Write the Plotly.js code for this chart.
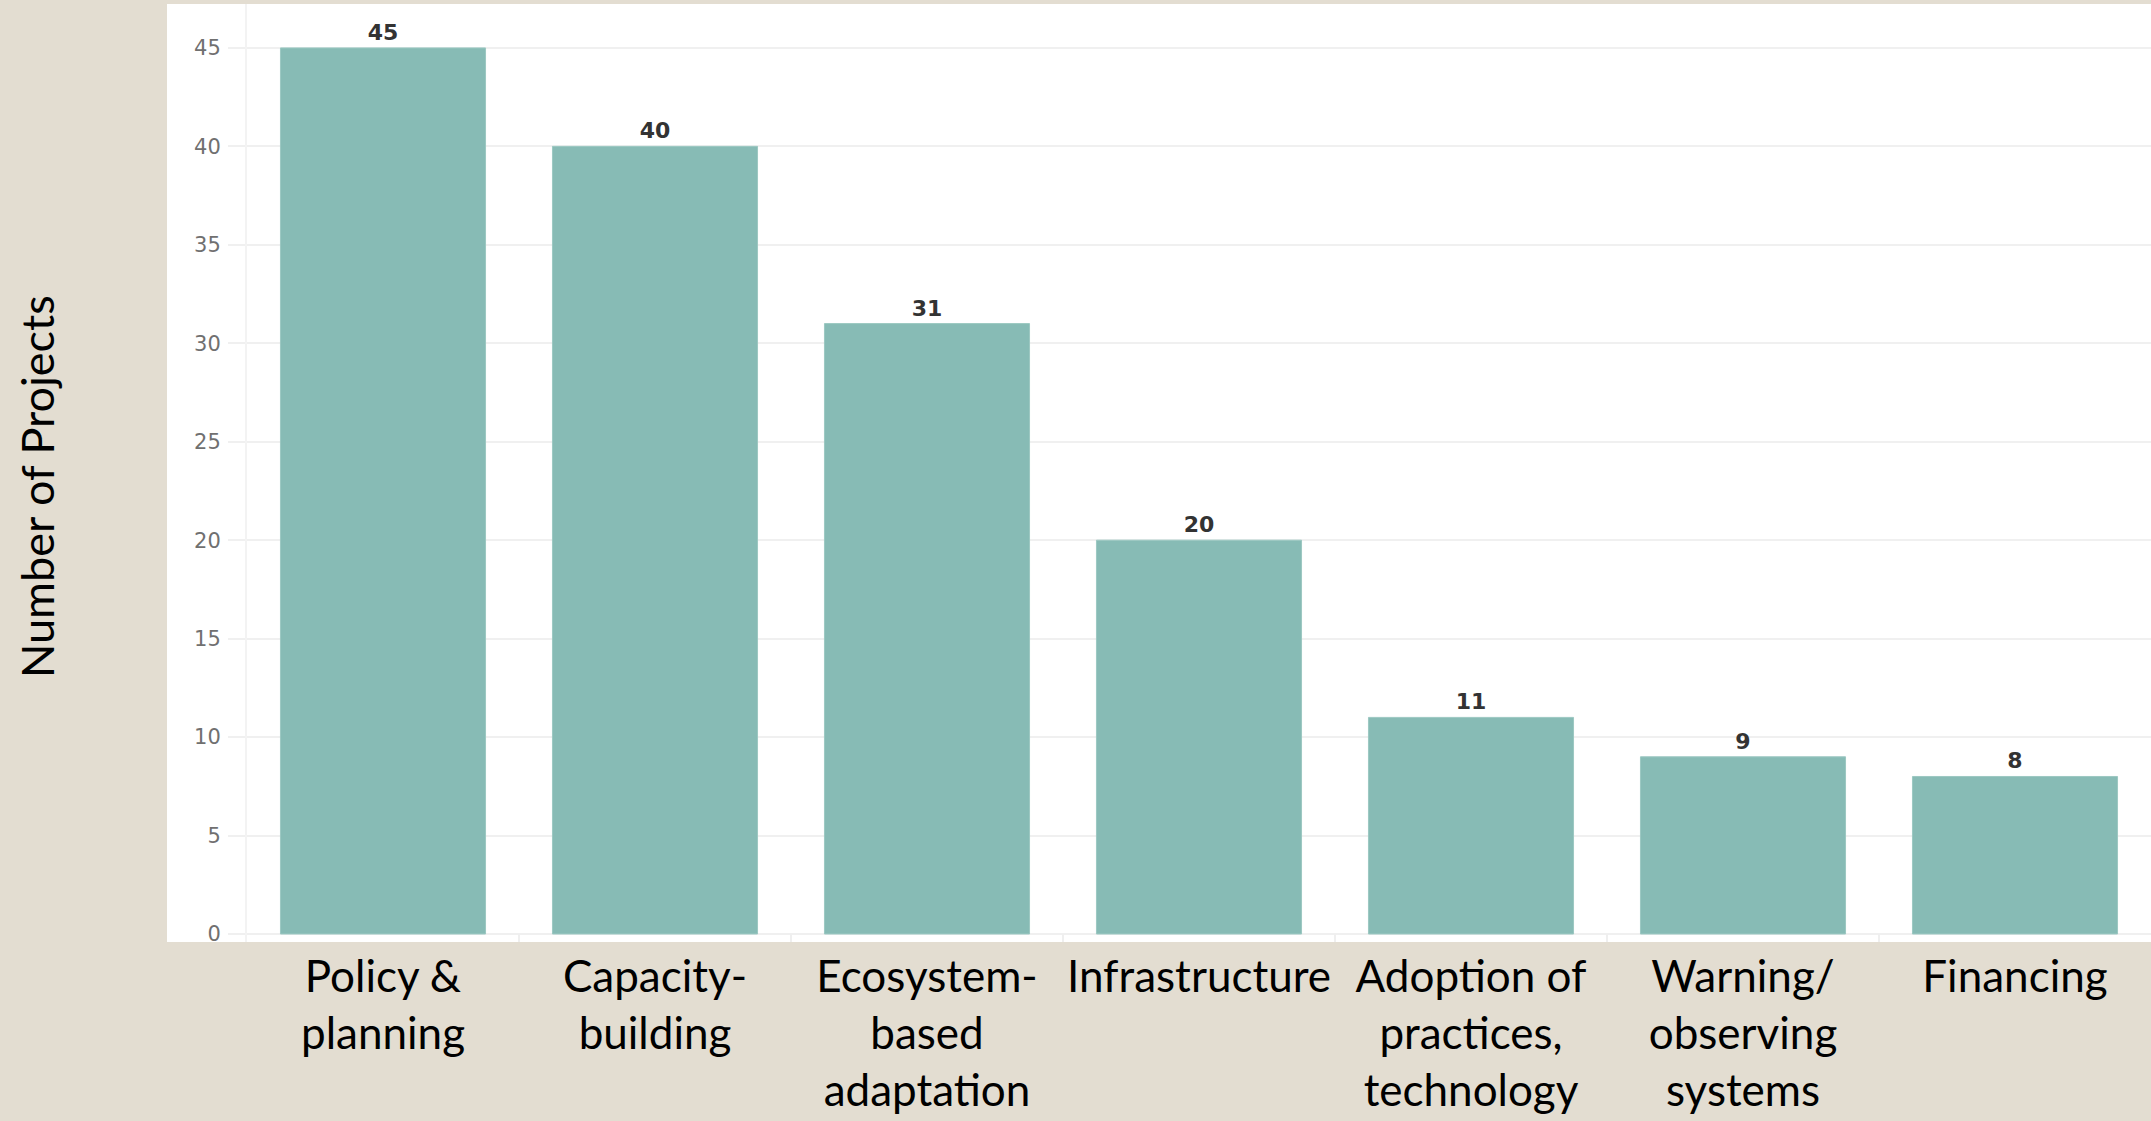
<!DOCTYPE html>
<html>
<head>
<meta charset="utf-8">
<script src="https://cdn.plot.ly/plotly-3.0.1.min.js"></script>
<style>
  html, body { margin: 0; padding: 0; background: #E3DDD1; }
  #chart { width: 2151px; height: 1121px; }
</style>
</head>
<body>
<div id="chart"></div>
<script>
const categories = [
  "Policy &<br>planning",
  "Capacity-<br>building",
  "Ecosystem-<br>based<br>adaptation",
  "Infrastructure",
  "Adoption of<br>practices,<br>technology",
  "Warning/<br>observing<br>systems",
  "Financing"
];
const projects = [45, 40, 31, 20, 11, 9, 8];
const yTicks = [0, 5, 10, 15, 20, 25, 30, 35, 40, 45];
const yAxisTitle = "Number of Projects";

const trace = {
  type: "bar",
  x: categories,
  y: projects,
  text: projects.map(String),
  textposition: "outside",
  cliponaxis: false,
  textfont: { family: "DejaVu Sans", size: 22, color: "#333333", weight: "bold" },
  marker: { color: "#87BBB5", line: { color: "#9CC8C2", width: 1 } },
  hoverinfo: "x+y"
};

const layout = {
  width: 2151,
  height: 1121,
  paper_bgcolor: "#E3DDD1",
  plot_bgcolor: "#FFFFFF",
  margin: { l: 247, r: 0, t: 4, b: 179, pad: 0 },
  bargap: 0.246,
  showlegend: false,
  xaxis: {
    type: "category",
    tickson: "boundaries",
    ticks: "inside",
    ticklen: 8,
    tickcolor: "#EFEFEF",
    tickwidth: 2,
    showgrid: false,
    showline: false,
    zeroline: false,
    tickangle: 0,
    ticklabelstandoff: 5,
    tickfont: { family: "Lato", size: 44, color: "#000000" },
    automargin: false
  },
  yaxis: {
    range: [-0.406, 47.23],
    tickvals: yTicks,
    ticktext: yTicks.map(String),
    ticks: "outside",
    ticklen: 17,
    tickcolor: "#F0F0F0",
    tickwidth: 2,
    showgrid: true,
    gridcolor: "#F0F0F0",
    gridwidth: 2,
    zeroline: false,
    showline: true,
    linecolor: "#F3F3F3",
    linewidth: 2,
    ticklabelstandoff: 3,
    tickfont: { family: "DejaVu Sans", size: 21, color: "#707070" },
    automargin: false
  },
  annotations: [
    {
      text: yAxisTitle,
      xref: "paper", yref: "paper",
      x: (37 - 247) / 1904, y: 1 - (487 - 4) / 938,
      xanchor: "center", yanchor: "middle",
      textangle: -90,
      showarrow: false,
      font: { family: "Lato", size: 45, color: "#000000" }
    }
  ],
  shapes: [
    {
      type: "rect", xref: "paper", yref: "paper", layer: "below",
      x0: -80 / 1904, x1: 0, y0: 0, y1: 1,
      fillcolor: "#FFFFFF", line: { width: 0 }
    }
  ]
};

Plotly.newPlot("chart", [trace], layout, { displayModeBar: false, staticPlot: true });
</script>
</body>
</html>
